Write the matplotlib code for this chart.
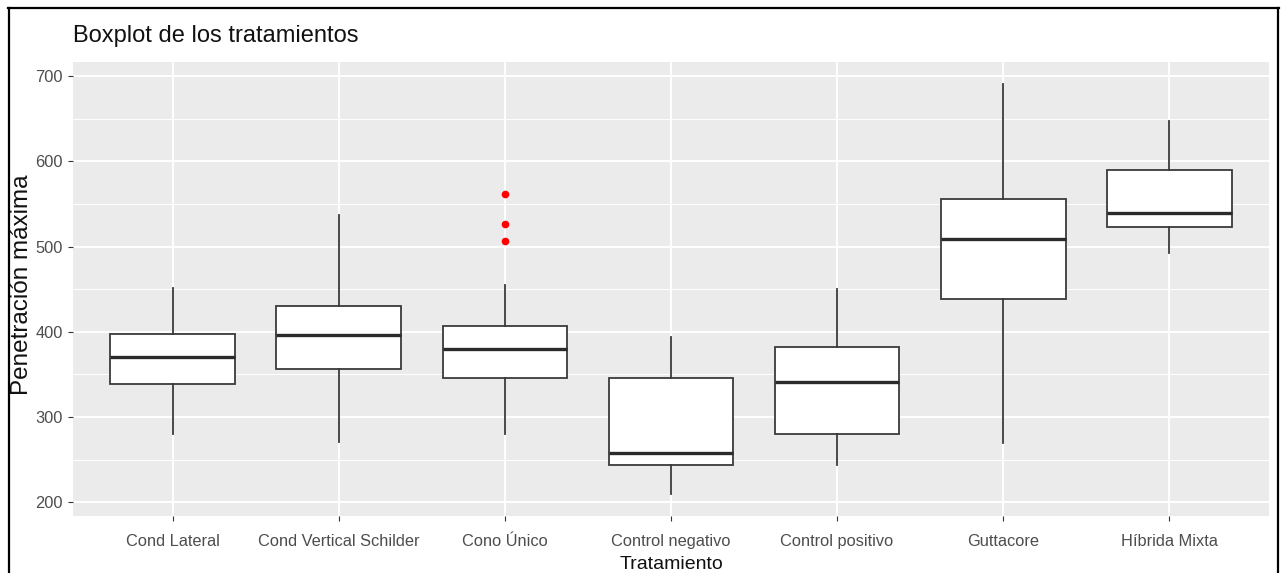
import matplotlib.pyplot as plt
from matplotlib.lines import Line2D

plt.rcParams['font.family'] = ['Liberation Sans', 'DejaVu Sans']

# Resumen de cinco números por tratamiento
tratamientos = ['Cond Lateral', 'Cond Vertical Schilder', 'Cono Único',
                'Control negativo', 'Control positivo', 'Guttacore', 'Híbrida Mixta']
bigote_inf = [280.6, 270.3, 280.6, 209.9, 244.2, 269.2, 493.0]
q1 = [338.4, 356.8, 346.3, 244.2, 280.0, 438.6, 523.4]
medianas = [370.3, 396.8, 380.1, 257.8, 341.6, 508.6, 539.0]
q3 = [398.0, 430.0, 407.4, 346.3, 382.5, 555.4, 589.6]
bigote_sup = [451.4, 537.0, 455.3, 394.2, 450.6, 690.9, 646.8]
atipicos = [[], [], [561.6, 526.2, 507.0], [], [], [], []]

W, H = 1281, 573
fig = plt.figure(figsize=(W / 100, H / 100), dpi=100)
fig.patch.set_facecolor('white')

# panel en pixeles: x 73-1269, y 62-516
ax = fig.add_axes([73 / W, 1 - 516 / H, (1269 - 73) / W, (516 - 62) / H])
ax.set_facecolor('#EBEBEB')

stats = []
for i, nombre in enumerate(tratamientos):
    stats.append(dict(label=nombre, q1=q1[i], med=medianas[i], q3=q3[i],
                      whislo=bigote_inf[i], whishi=bigote_sup[i],
                      fliers=atipicos[i]))

ax.bxp(stats, positions=range(1, len(tratamientos) + 1), widths=0.75,
       patch_artist=True, showcaps=False,
       boxprops=dict(facecolor='white', edgecolor='#3a3a3a', linewidth=1.3),
       medianprops=dict(color='#2b2b2b', linewidth=2.4, solid_capstyle='butt'),
       whiskerprops=dict(color='#3a3a3a', linewidth=1.3),
       flierprops=dict(marker='o', markerfacecolor='red', markeredgecolor='red',
                       markersize=4.5))

ax.set_xlim(0.4, len(tratamientos) + 0.6)
ax.set_ylim(184, 716.5)
ax.set_yticks(range(200, 701, 100))
ax.set_yticks(range(250, 701, 100), minor=True)
ax.set_xticks(range(1, len(tratamientos) + 1))
ax.set_xticklabels(tratamientos)

ax.set_axisbelow(True)
ax.grid(which='major', color='white', linewidth=1.4)
ax.grid(which='minor', axis='y', color='white', linewidth=0.7)
for s in ax.spines.values():
    s.set_visible(False)

ax.tick_params(which='major', length=3.5, width=0.8, color='#333333',
               labelcolor='#4D4D4D', labelsize=11.8, pad=4)
ax.tick_params(axis='x', which='major', pad=9.5)
ax.tick_params(which='minor', length=0)

fig.text(73 / W, 1 - 42 / H, 'Boxplot de los tratamientos', fontsize=17,
         color='#111111', ha='left', va='baseline')
fig.text(22 / W, 1 - 285 / H, 'Penetración máxima', fontsize=17.5,
         rotation=90, ha='center', va='center', color='#111111')
fig.text(671 / W, 1 - 569 / H, 'Tratamiento', fontsize=14,
         ha='center', va='baseline', color='#111111')

# marco negro alrededor de la figura
for xs, ys in [((8 / W, 1279 / W), (1 - 8 / H, 1 - 8 / H)),
               ((9 / W, 9 / W), (0, 1 - 8 / H)),
               ((1278 / W, 1278 / W), (0, 1 - 8 / H))]:
    fig.add_artist(Line2D(xs, ys, color='black', linewidth=1.6))

fig.savefig('out.png', dpi=100)
